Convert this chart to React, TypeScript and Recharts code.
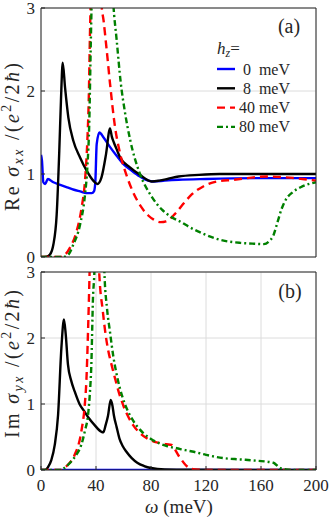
import { CartesianGrid, Line, LineChart, XAxis, YAxis } from "recharts";

const omegaTicks = [0, 40, 80, 120, 160, 200];
const sigmaTicks = [0, 1, 2, 3];
const fieldLabels = ["0  meV", "8  meV", "40 meV", "80 meV"];

// [omega (meV), Re sigma_xx / (e^2/2hbar)]
const reXX0 = [
  [0, 1.23], [0.7, 1.16], [1.7, 0.9], [3, 0.88], [5, 0.94], [9, 0.9], [14, 0.87],
  [19, 0.84], [24, 0.81], [28.5, 0.79], [33, 0.77], [37, 0.77], [38.5, 0.79],
  [39.5, 0.9], [40.5, 1.36], [42.5, 1.5], [45.5, 1.44], [50, 1.33], [55, 1.22],
  [60, 1.12], [66, 1.04], [72, 0.97], [78, 0.92], [82, 0.91], [90, 0.92],
  [100, 0.93], [120, 0.94], [160, 0.95], [200, 0.95],
];
const reXX8 = [
  [0, 0], [4, 0.005], [6.5, 0.03], [9, 0.15], [11.4, 0.51], [13.3, 1.28],
  [14.5, 1.88], [15.8, 2.34], [17.5, 2.04], [19.9, 1.68], [23.5, 1.4],
  [28.4, 1.2], [33.2, 1.04], [38, 0.92], [41, 0.88], [44, 0.96], [47.3, 1.24],
  [50.2, 1.55], [51.5, 1.45], [53, 1.38], [55, 1.3], [57.5, 1.2], [64.7, 1.08],
  [72, 0.99], [80.5, 0.91], [86, 0.92], [92, 0.94], [100, 0.97], [115, 0.99],
  [130, 1.0], [200, 1.0],
];
const reXX40 = [
  [0, 0], [14, 0], [17, 0.02], [21, 0.11], [25.9, 0.31], [29.5, 0.59], [32, 0.92],
  [33.7, 1.4], [34.7, 1.88], [35.6, 2.68], [36.1, 3.05], [40, 6], [44, 3.05],
  [45.5, 2.85], [47.8, 2.49], [50.2, 2.09], [53.8, 1.57], [57.5, 1.25],
  [62.3, 0.98], [67, 0.78], [73, 0.6], [78, 0.5], [82, 0.45], [87, 0.42],
  [91, 0.43], [97.5, 0.52], [104, 0.65], [110, 0.76], [118, 0.85], [128, 0.91],
  [140, 0.93], [150, 0.95], [164, 0.97], [178, 0.96], [190, 0.94], [200, 0.92],
];
const reXX80 = [
  [0, 0], [16, 0], [20, 0.03], [23.5, 0.15], [28.4, 0.39], [32, 0.75],
  [33.7, 1.08], [35.2, 1.68], [36.1, 2.48], [36.8, 3.05], [44, 8], [52.6, 3.05],
  [55, 2.62], [58, 2.1], [61, 1.75], [65, 1.4], [72, 1.0], [80, 0.74], [88, 0.57],
  [95, 0.48], [102, 0.42], [108, 0.36], [118, 0.28], [132, 0.2], [145, 0.17],
  [155, 0.16], [162, 0.155], [166, 0.19], [169, 0.26], [172, 0.42], [175, 0.58],
  [178, 0.69], [183, 0.78], [190, 0.85], [200, 0.9],
];

// [omega (meV), Im sigma_yx / (e^2/2hbar)]
const imYX0 = [[0, 0], [200, 0]];
const imYX8 = [
  [0, 0], [3, 0], [5, 0.04], [7.5, 0.15], [10, 0.38], [12.4, 0.83], [14.8, 1.84],
  [16.7, 2.28], [18, 2.05], [19.6, 1.6], [22, 1.35], [24.5, 1.19], [28, 1.0],
  [31.8, 0.88], [35, 0.78], [39, 0.68], [43.9, 0.58], [45.3, 0.57], [47, 0.68],
  [48.7, 0.82], [50.7, 1.06], [52, 0.97], [53, 0.83], [55, 0.65], [57, 0.48],
  [59.5, 0.36], [62, 0.28], [66, 0.18], [70, 0.11], [75, 0.06], [80, 0.03],
  [90, 0.01], [110, 0.005], [200, 0],
];
const imYX40 = [
  [0, 0], [14, 0], [16, 0.02], [19.6, 0.08], [24.5, 0.23], [29.3, 0.58],
  [31.8, 0.98], [33, 1.35], [34.2, 2.1], [35.4, 3.05], [38.8, 7], [42.2, 3.05],
  [45, 2.4], [47, 2.05], [49, 1.8], [51, 1.62], [53.7, 1.4], [57, 1.15],
  [60, 0.97], [67, 0.68], [72, 0.56], [77, 0.48], [82, 0.43], [86.5, 0.41],
  [91, 0.39], [95, 0.38], [97.5, 0.31], [100, 0.22], [102, 0.16], [105, 0.08],
  [108, 0.03], [112, 0.01], [120, 0], [200, 0],
];
const imYX80 = [
  [0, 0], [15, 0], [17, 0.03], [22, 0.13], [26, 0.24], [29.3, 0.38], [32, 0.6],
  [34.2, 0.83], [35.5, 1.15], [36.6, 1.59], [37.8, 2.6], [38.9, 3.05], [42, 8],
  [46, 3.05], [48, 2.45], [50, 2.12], [52.6, 1.72], [55, 1.45], [57.5, 1.23],
  [61, 1.0], [64.7, 0.83], [70, 0.66], [74.4, 0.56], [80, 0.47], [86.5, 0.4],
  [92, 0.36], [98.7, 0.33], [105, 0.3], [110, 0.28], [120, 0.23], [132.6, 0.18],
  [145, 0.16], [157, 0.14], [169, 0.11], [171, 0.08], [174, 0.03], [178, 0.01],
  [185, 0], [200, 0],
];

const styles = [
  { color: "#0000ff", dash: undefined },
  { color: "#000000", dash: undefined },
  { color: "#ff0000", dash: "8 5" },
  { color: "#008000", dash: "6 3 2 3" },
];

const font = "Liberation Serif, serif";
const axisColor = "#262626";
const tickStyle = { fontSize: 17, fill: axisColor, fontFamily: font };

const toRows = (pts: number[][]) => pts.map(([w, v]) => ({ w, v }));

function Panel({
  curves,
  height,
  margin,
  showX,
}: {
  curves: number[][][];
  height: number;
  margin: { top: number; right: number; bottom: number; left: number };
  showX: boolean;
}) {
  return (
    <LineChart width={332} height={height} margin={margin} style={{ fontFamily: font }}>
      <CartesianGrid stroke="#dcdcdc" strokeWidth={1} />
      <XAxis
        dataKey="w"
        type="number"
        domain={[0, 200]}
        ticks={omegaTicks}
        interval={0}
        allowDataOverflow
        height={showX ? 51 : 1}
        tickSize={-4}
        tickMargin={13}
        tick={showX ? tickStyle : false}
        stroke={axisColor}
      />
      <XAxis
        xAxisId="top"
        orientation="top"
        dataKey="w"
        type="number"
        domain={[0, 200]}
        ticks={omegaTicks}
        interval={0}
        height={1}
        tickSize={-4}
        tick={false}
        stroke={axisColor}
      />
      <YAxis
        type="number"
        domain={[0, 3]}
        ticks={sigmaTicks}
        interval={0}
        allowDataOverflow
        width={41}
        tickSize={-4}
        tickMargin={10}
        tick={tickStyle}
        stroke={axisColor}
      />
      <YAxis
        yAxisId="right"
        orientation="right"
        type="number"
        domain={[0, 3]}
        ticks={sigmaTicks}
        interval={0}
        width={1}
        tickSize={-4}
        tick={false}
        stroke={axisColor}
      />
      {curves.map((c, i) => (
        <Line
          key={i}
          data={toRows(c)}
          dataKey="v"
          type="monotone"
          stroke={styles[i].color}
          strokeWidth={2.4}
          strokeDasharray={styles[i].dash}
          dot={false}
          activeDot={false}
          isAnimationActive={false}
        />
      ))}
    </LineChart>
  );
}

function SigmaLabel({ cy, head, sub }: { cy: number; head: string; sub: string }) {
  return (
    <text
      x={19}
      y={cy}
      transform={`rotate(-90, 19, ${cy})`}
      textAnchor="middle"
      fontSize={20}
      fontFamily={font}
      fill={axisColor}
      textLength={148}
      lengthAdjust="spacing"
    >
      {head + " "}
      <tspan fontStyle="italic">σ</tspan>
      <tspan fontStyle="italic" fontSize={14} dy={4}>{sub}</tspan>
      <tspan dy={-4}>{" /("}</tspan>
      <tspan fontStyle="italic">e</tspan>
      <tspan fontSize={14} dy={-8}>2</tspan>
      <tspan dy={8}>/2</tspan>
      <tspan fontStyle="italic">ħ</tspan>
      <tspan>)</tspan>
    </text>
  );
}

export default function App() {
  return (
    <div
      style={{
        position: "absolute",
        left: 0,
        top: 0,
        width: 332,
        height: 521,
        background: "#fff",
        fontFamily: font,
      }}
    >
      <div style={{ position: "absolute", left: 0, top: 0 }}>
        <Panel
          curves={[reXX0, reXX8, reXX40, reXX80]}
          height={268}
          margin={{ top: 7, right: 15, bottom: 10, left: 0 }}
          showX={false}
        />
      </div>
      <div style={{ position: "absolute", left: 0, top: 260 }}>
        <Panel
          curves={[imYX0, imYX8, imYX40, imYX80]}
          height={261}
          margin={{ top: 11, right: 15, bottom: 0, left: 0 }}
          showX={true}
        />
      </div>
      <svg
        width={332}
        height={521}
        style={{ position: "absolute", left: 0, top: 0, pointerEvents: "none" }}
        fontFamily={font}
      >
        <SigmaLabel cy={137} head="Re" sub="xx" />
        <SigmaLabel cy={364} head="Im" sub="yx" />
        <text x={179} y={513} textAnchor="middle" fontSize={19} fill={axisColor}>
          <tspan fontStyle="italic">ω</tspan> (meV)
        </text>
        <text x={289} y={33} textAnchor="middle" fontSize={20} fill={axisColor}>(a)</text>
        <text x={290} y={298} textAnchor="middle" fontSize={20} fill={axisColor}>(b)</text>
        <text x={217} y={54} fontSize={17} fill={axisColor}>
          <tspan fontStyle="italic">h</tspan>
          <tspan fontStyle="italic" fontSize={12} dy={3}>z</tspan>
          <tspan dy={-3}>=</tspan>
        </text>
        {fieldLabels.map((label, i) => {
          const y = 69 + i * 19.3;
          return (
            <g key={label}>
              <line
                x1={217}
                x2={235}
                y1={y}
                y2={y}
                stroke={styles[i].color}
                strokeWidth={2.4}
                strokeDasharray={styles[i].dash}
              />
              <text
                x={290}
                y={y + 5.5}
                textAnchor="end"
                fontSize={16}
                fill={axisColor}
                style={{ whiteSpace: "pre" }}
              >
                {label}
              </text>
            </g>
          );
        })}
      </svg>
    </div>
  );
}
